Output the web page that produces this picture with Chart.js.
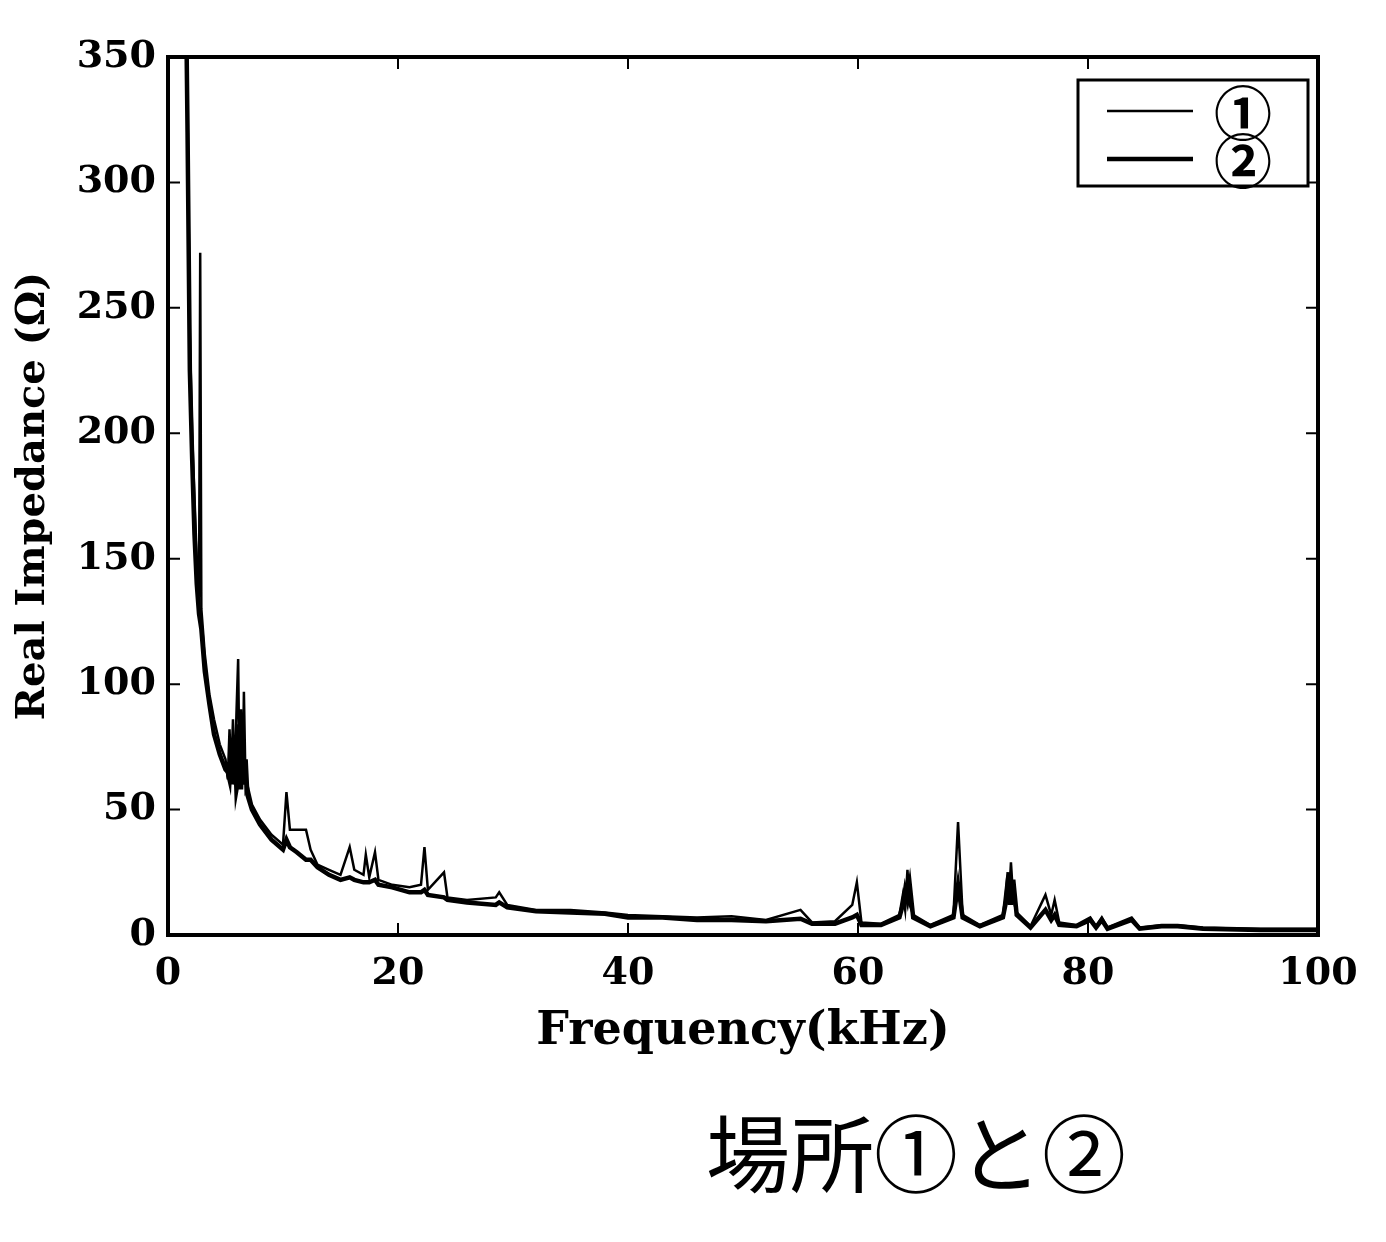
<!DOCTYPE html>
<html>
<head>
<meta charset="utf-8">
<script src="https://cdn.jsdelivr.net/npm/chart.js@4"></script>
<style>
  body { margin: 0; background: #fff; }
  #wrap { position: relative; width: 1386px; height: 1242px; }
  #caption {
    position: absolute;
    left: 706px;
    top: 1108px;
    font-family: "Noto Sans CJK JP", sans-serif;
    font-size: 84px;
    line-height: 1;
    color: #000;
    white-space: nowrap;
  }
</style>
</head>
<body>
<div id="wrap">
  <canvas id="myChart" width="1386" height="1090"></canvas>
  <div id="caption">場所①と②</div>
</div>
<script>
// frequency grid (kHz)
const freq = [
  1.3, 1.5, 1.7, 1.9, 2.1, 2.3, 2.5, 2.7, 2.8, 2.9,
  3.2, 3.6, 4.0, 4.5, 5.0, 5.2, 5.35, 5.5, 5.65, 5.8,
  5.95, 6.1, 6.2, 6.35, 6.5, 6.6, 6.75, 6.9, 7.3, 8.0,
  9.0, 10.0, 10.3, 10.6, 11.2, 12.0, 12.4, 13.0, 14.0, 15.0,
  15.8, 16.2, 17.0, 17.2, 17.5, 18.0, 18.3, 19.5, 21.0, 22.0,
  22.3, 22.6, 24.0, 24.3, 26.0, 28.5, 28.8, 29.5, 32.0, 35.0,
  38.0, 40.0, 43.0, 46.0, 49.0, 52.0, 55.0, 56.0, 58.0, 59.5,
  59.9, 60.3, 62.0, 63.6, 63.9, 64.1, 64.3, 64.5, 64.8, 66.3,
  68.3, 68.7, 69.1, 70.6, 72.6, 72.9, 73.1, 73.3, 73.5, 73.8,
  75.0, 76.3, 76.8, 77.1, 77.5, 79.0, 80.2, 80.7, 81.2, 81.7,
  83.8, 84.5, 86.4, 87.8, 90.0, 95.0, 100.0
];

// real impedance at location 1 (ohm)
const imp1 = [
  600, 420, 330, 240, 200, 175, 150, 135, 272, 130,
  112, 96, 86, 76, 70, 62, 82, 64, 86, 60,
  88, 110, 70, 90, 62, 97, 58, 60, 52, 46,
  40, 36, 57, 42, 42, 42, 34, 28, 26, 24,
  35, 26, 24, 32, 23, 33, 22, 20, 19, 20,
  35, 18, 25, 15, 14, 15, 17, 12, 10, 10,
  9, 8, 7.5, 7, 7.5, 6, 10, 5, 5.5, 12,
  21, 5, 4.5, 8, 16, 10, 26, 12, 8, 4,
  8, 45, 8, 4, 8, 20, 12, 29, 14, 9,
  3.5, 16, 8, 14, 5, 4, 7, 3.5, 7, 3,
  7, 3, 4, 4, 3, 2.5, 2.5
];

// real impedance at location 2 (ohm)
const imp2 = [
  600, 400, 320, 225, 190, 160, 140, 128, 125, 122,
  105, 92, 80, 72, 66, 65, 62, 75, 60, 78,
  58, 62, 84, 58, 80, 60, 70, 56, 50, 44,
  38, 34, 38, 35, 33, 30, 30, 27, 24, 22,
  23, 22, 21, 21, 21, 22, 20, 19, 17, 17,
  18, 16, 15, 14, 13, 12, 13, 11, 9.5, 9,
  8.5, 7, 7, 6, 6, 5.5, 6.5, 4.5, 4.5, 7,
  8, 4, 4, 7, 12, 18, 14, 20, 7, 3.5,
  7, 20, 7, 3.5, 7, 14, 25, 12, 22, 8,
  3, 10, 6, 8, 4, 3.5, 6, 3, 6, 2.5,
  6, 2.5, 3.5, 3.5, 2.5, 2, 2
];

const seriesLabels = ["①", "②"];
const xTicks = [0, 20, 40, 60, 80, 100];
const yTicks = [0, 50, 100, 150, 200, 250, 300, 350];

const labelFont = "DejaVu Serif";

// frame, inner ticks and boxed legend
const framePlugin = {
  id: "frame",
  afterDraw(chart) {
    const ctx = chart.ctx;
    const a = chart.chartArea;
    const xs = chart.scales.x;
    const ys = chart.scales.y;
    ctx.save();
    ctx.strokeStyle = "#000";
    ctx.lineWidth = 4;
    ctx.strokeRect(a.left, a.top, a.right - a.left, a.bottom - a.top);

    ctx.lineWidth = 2;
    ctx.beginPath();
    yTicks.forEach((v) => {
      const py = ys.getPixelForValue(v);
      ctx.moveTo(a.left, py);
      ctx.lineTo(a.left + 12, py);
      ctx.moveTo(a.right, py);
      ctx.lineTo(a.right - 12, py);
    });
    xTicks.forEach((v) => {
      const px = xs.getPixelForValue(v);
      ctx.moveTo(px, a.bottom);
      ctx.lineTo(px, a.bottom - 12);
      ctx.moveTo(px, a.top);
      ctx.lineTo(px, a.top + 12);
    });
    ctx.stroke();

    // legend box
    const bx = a.right - 240;
    const by = a.top + 23;
    const bw = 230;
    const bh = 106;
    ctx.fillStyle = "#fff";
    ctx.fillRect(bx, by, bw, bh);
    ctx.lineWidth = 3;
    ctx.strokeRect(bx, by, bw, bh);

    chart.data.datasets.forEach((ds, i) => {
      const ly = by + 31 + i * 48;
      ctx.lineWidth = ds.borderWidth;
      ctx.beginPath();
      ctx.moveTo(bx + 29, ly);
      ctx.lineTo(bx + 115, ly);
      ctx.stroke();
      ctx.fillStyle = "#000";
      ctx.font = "bold 58px 'Noto Sans CJK JP'";
      ctx.textAlign = "center";
      ctx.textBaseline = "middle";
      ctx.fillText(ds.label, bx + 165, ly + 2);
    });
    ctx.restore();
  },
};

new Chart(document.getElementById("myChart"), {
  type: "line",
  data: {
    labels: freq,
    datasets: [
      {
        label: seriesLabels[0],
        data: freq.map((f, i) => ({ x: f, y: imp1[i] })),
        borderColor: "#000",
        borderWidth: 2.5,
        pointRadius: 0,
        tension: 0,
      },
      {
        label: seriesLabels[1],
        data: freq.map((f, i) => ({ x: f, y: imp2[i] })),
        borderColor: "#000",
        borderWidth: 4.5,
        pointRadius: 0,
        tension: 0,
      },
    ],
  },
  options: {
    responsive: false,
    animation: false,
    layout: {
      padding: { top: 57, right: 68, left: 0, bottom: 0 },
    },
    plugins: {
      legend: { display: false },
      tooltip: { enabled: false },
    },
    scales: {
      x: {
        type: "linear",
        min: 0,
        max: 100,
        afterBuildTicks: (scale) => {
          scale.ticks = xTicks.map((v) => ({ value: v }));
        },
        afterFit: (scale) => {
          scale.height = 155;
        },
        grid: { display: false },
        border: { display: false },
        ticks: {
          color: "#000",
          padding: 8,
          maxRotation: 0,
          font: { family: labelFont, weight: "bold", size: 38 },
        },
        title: {
          display: true,
          text: "Frequency(kHz)",
          color: "#000",
          padding: { top: 0, bottom: 30 },
          font: { family: labelFont, weight: "bold", size: 46 },
        },
      },
      y: {
        type: "linear",
        min: 0,
        max: 350,
        afterBuildTicks: (scale) => {
          scale.ticks = yTicks.map((v) => ({ value: v }));
        },
        afterFit: (scale) => {
          scale.width = 168;
        },
        grid: { display: false },
        border: { display: false },
        ticks: {
          color: "#000",
          padding: 4,
          font: { family: labelFont, weight: "bold", size: 38 },
        },
        title: {
          display: true,
          text: "Real Impedance (Ω)",
          color: "#000",
          padding: { top: 10, bottom: 0 },
          font: { family: labelFont, weight: "bold", size: 40 },
        },
      },
    },
  },
  plugins: [framePlugin],
});
</script>
</body>
</html>
